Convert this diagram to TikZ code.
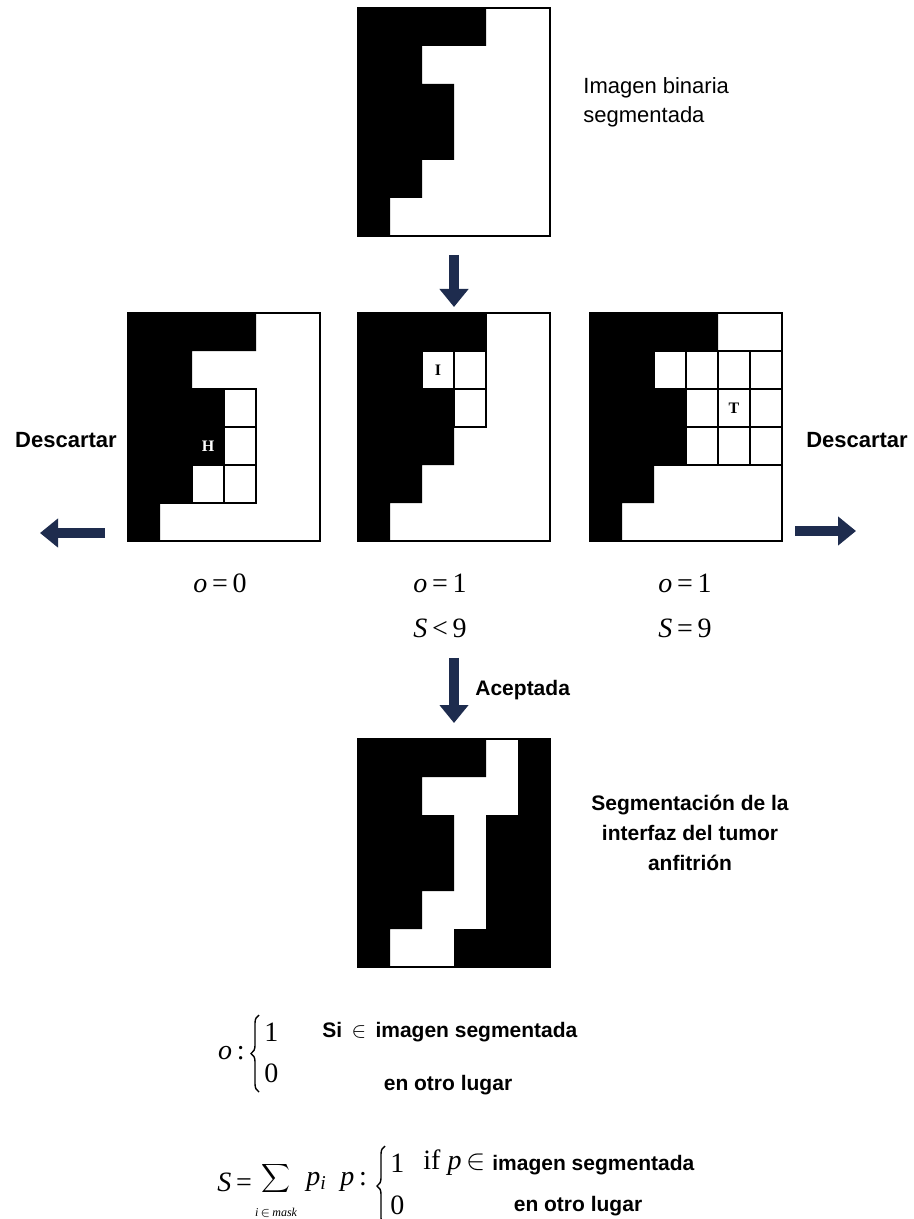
\documentclass[tikz,border=0pt]{standalone}
\usepackage{fontspec}
\setmainfont{Liberation Sans}
\newfontfamily\tnr{Liberation Serif}
\usetikzlibrary{arrows.meta, positioning, calc, decorations.pathreplacing}
\definecolor{arrnavy}{RGB}{30,44,78}
\newcommand{\mv}[1]{{\itshape #1}}
% filas negras: fila/desde/hasta (en celdas de 32x38 px)
\newcommand{\imgF}{0/0/4, 1/0/2, 2/0/3, 3/0/3, 4/0/2, 5/0/1}
\newcommand{\imgB}{0/0/4, 0/5/6, 1/0/2, 1/5/6, 2/0/3, 2/4/6, 3/0/3, 3/4/6, 4/0/2, 4/4/6, 5/0/1, 5/3/6}

\begin{document}
\begin{tikzpicture}[x=0.5pt, y=-0.5pt, font=\fontsize{11}{14.5}\selectfont,
		img/.style={draw, line width=0.7pt, minimum width=96pt, minimum height=114pt,
		            inner sep=0pt, outer sep=0pt},
		cell/.style={draw, line width=0.7pt},
		bigarrow/.style={arrnavy, line width=5pt, -{Triangle[length=9pt, width=14pt]}},
		lbl/.style={font=\bfseries\fontsize{10.5}{15}\selectfont, inner sep=1pt},
		eqn/.style={font=\tnr\fontsize{14}{16}\selectfont, inner sep=1pt},
		curly/.style={decorate, decoration={brace, amplitude=4pt}, line width=0.7pt},
		tag/.style={font=\tnr\bfseries\fontsize{8}{8}\selectfont, inner sep=0pt}]
	\path[fill=white, use as bounding box] (0,0) rectangle (914,1219);

	% imagen binaria de entrada
	\node[img] (top) at (454,122) {};
	\fill[shift={(top.north west)}] \foreach \r/\a/\b in \imgF {(\a*32,\r*38) rectangle (\b*32,\r*38+38)};
	\node[anchor=west, align=left, inner sep=0pt] (tittop) at (583,102) {Imagen binaria\\segmentada};

	% tres casos de la ventana 3x3
	\node[img] (midL) at (224,427) {};
	\node[img] (midC) at (454,427) {};
	\node[img] (midR) at (686,427) {};
	\begin{scope}[shift={(midL.north west)}]
		\fill \foreach \r/\a/\b in \imgF {(\a*32,\r*38) rectangle (\b*32,\r*38+38)};
		\foreach \c in {1,2,3} \foreach \r in {2,3,4} \draw[cell] (\c*32,\r*38) rectangle ++(32,38);
		\node[tag, white] (tH) at (80,133) {H};
	\end{scope}
	\begin{scope}[shift={(midC.north west)}]
		\fill \foreach \r/\a/\b in \imgF {(\a*32,\r*38) rectangle (\b*32,\r*38+38)};
		\foreach \c in {1,2,3} \foreach \r in {0,1,2} \draw[cell] (\c*32,\r*38) rectangle ++(32,38);
		\node[tag] (tI) at (80,57) {I};
	\end{scope}
	\begin{scope}[shift={(midR.north west)}]
		\fill \foreach \r/\a/\b in \imgF {(\a*32,\r*38) rectangle (\b*32,\r*38+38)};
		\foreach \c in {2,3,4,5} \foreach \r in {1,2,3} \draw[cell] (\c*32,\r*38) rectangle ++(32,38);
		\node[tag] (tT) at (144,95) {T};
	\end{scope}
	\draw[line width=0.7pt] (midL.north west) rectangle (midL.south east)
		(midC.north west) rectangle (midC.south east) (midR.north west) rectangle (midR.south east);

	\node[lbl, font=\bfseries\fontsize{11}{13}\selectfont] (descL) at (66,440) {Descartar};
	\node[lbl, font=\bfseries\fontsize{11}{13}\selectfont] (descR) at (857,440) {Descartar};
	\coordinate (outL) at (40,533);
	\coordinate (outR) at (856,531);
	\draw[bigarrow] ($(midL.west |- outL)+(-23,0)$) -- (outL);
	\draw[bigarrow] ($(midR.east |- outR)+(13,0)$) -- (outR);

	\node[eqn] (oL) at (220,583) {\mv{o}\,=\,0};
	\node[eqn] (oC) at (440,583) {\mv{o}\,=\,1};
	\node[eqn] (sC) at (440,628) {\mv{S}\,<\,9};
	\node[eqn] (oR) at (685,583) {\mv{o}\,=\,1};
	\node[eqn] (sR) at (685,628) {\mv{S}\,=\,9};

	% resultado
	\node[img] (bot) at (454,853) {};
	\fill[shift={(bot.north west)}] \foreach \r/\a/\b in \imgB {(\a*32,\r*38) rectangle (\b*32,\r*38+38)};
	\draw[line width=0.7pt] (bot.north west) rectangle (bot.south east);
	\node[lbl, align=center] (titbot) at (690,833) {Segmentación de la\\interfaz del tumor\\anfitrión};

	\draw[bigarrow, shorten <=9.5pt, shorten >=3pt] (top) -- (midC);
	\draw[bigarrow, shorten <=9pt, shorten >=8pt] (bot.north |- sC.south) -- (bot.north);
	\node[lbl, anchor=west] (acep) at (473,690) {Aceptada};

	% definiciones
	\coordinate (b1t) at (259,1015);
	\coordinate (b1b) at (259,1092);
	\draw[curly] (b1b) -- (b1t);
	\node[eqn, anchor=east] (odef) at (247,1053) {\mv{o}\,:};
	\node[eqn, anchor=west] (o1) at (262,1032) {1};
	\node[eqn, anchor=west] (o0) at (262,1073) {0};
	\node[lbl, anchor=west] (si) at (320,1032) {Si \,$\in$\, imagen segmentada};
	\node[lbl] (otro1) at (448,1085) {en otro lugar};

	\node[eqn, anchor=west] (sdef) at (215,1182) {\mv{S}\,=};
	\node[font=\fontsize{12.5}{14}\selectfont, inner sep=0pt] (sum) at (276,1178) {$\displaystyle\sum$};
	\node[font=\tnr\itshape\fontsize{6}{6}\selectfont, inner sep=0pt] (mask) at (276,1213) {i\,$\in$\,mask};
	\node[eqn, anchor=west] (pi) at (304,1182) {\mv{p}\textsubscript{\mv{i}}};
	\node[eqn, anchor=west] (pp) at (338,1182) {\mv{p}\,:};
	\coordinate (b2t) at (385,1146);
	\coordinate (b2b) at (385,1226);
	\draw[curly] (b2b) -- (b2t);
	\node[eqn, anchor=west] (p1) at (388,1163) {1};
	\node[eqn, anchor=west] (p0) at (388,1205) {0};
	\node[eqn, anchor=west] (ifp) at (421,1163) {if \mv{p}\,$\in$};
	\node[lbl, anchor=west] (seg2) at (490,1165) {imagen segmentada};
	\node[lbl] (otro2) at (578,1206) {en otro lugar};
\end{tikzpicture}
\end{document}
